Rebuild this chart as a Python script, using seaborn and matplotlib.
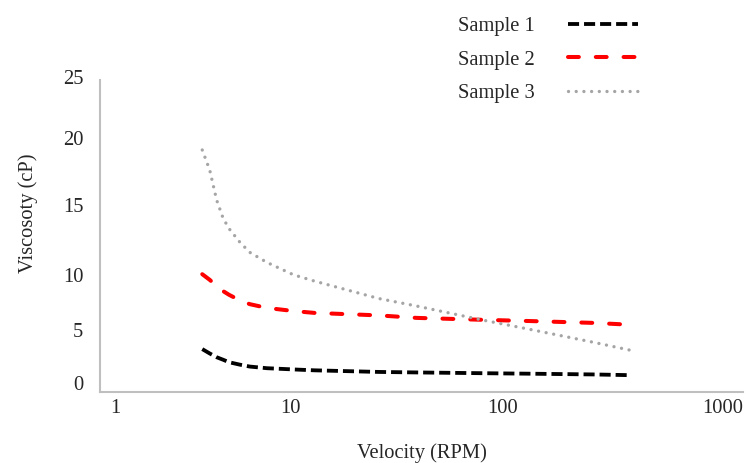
import pandas as pd
import numpy as np
import matplotlib
matplotlib.use("Agg")
import matplotlib.pyplot as plt
import matplotlib.ticker as mticker
import matplotlib.transforms as mtrans
import seaborn as sns

# -------------------------------
# DATA
# -------------------------------
rpm = [3, 3.25, 3.5, 3.75, 4, 4.5, 5, 6, 8, 10, 20, 30, 60, 100, 200, 300]
sample_1 = [3.45, 3.1, 2.8, 2.6, 2.4, 2.2, 2.05, 1.92, 1.82, 1.75,
            1.62, 1.58, 1.52, 1.48, 1.42, 1.36]
sample_2 = [9.45, 9.0, 8.5, 8.1, 7.8, 7.35, 7.05, 6.75, 6.5, 6.35,
            6.15, 5.95, 5.8, 5.7, 5.55, 5.4]
sample_3 = [19.4, 17.8, 15.4, 13.95, 13.1, 12.0, 11.2, 10.4, 9.4, 8.9,
            7.5, 6.9, 5.8, 5.05, 4.0, 3.35]
series_names = ["Sample 1", "Sample 2", "Sample 3"]
x_ticks = [1, 10, 100, 1000]
y_ticks = [0, 5, 10, 15, 20, 25]

df = pd.DataFrame({
    "rpm": rpm * 3,
    "visc": sample_1 + sample_2 + sample_3,
    "sample": [n for n in series_names for _ in rpm],
})

# -------------------------------
# STYLE
# -------------------------------
sns.set_style("white")
plt.rcParams["font.family"] = ["Liberation Serif", "DejaVu Serif"]
fs = 14.8

colors = {"Sample 1": "#000000", "Sample 2": "#ff0000", "Sample 3": "#a5a5a5"}
dashes = {"Sample 1": (2.9, 1.3), "Sample 2": (2.7, 4.2), "Sample 3": (0.01, 2.3)}
widths = {"Sample 1": 2.75, "Sample 2": 2.9, "Sample 3": 2.4}
caps = {"Sample 1": "butt", "Sample 2": "round", "Sample 3": "round"}

fig = plt.figure(figsize=(7.49, 4.63), dpi=100)
ax = fig.add_axes([0.1335, 0.153, 0.8585, 0.674])

sns.lineplot(data=df, x="rpm", y="visc", hue="sample", style="sample",
             palette=colors, dashes=dashes, ax=ax, legend=False)

for line, name in zip(ax.get_lines(), series_names):
    line.set_linewidth(widths[name])
    line.set_dashes(dashes[name])
    line.set_dash_capstyle(caps[name])

ax.set_xscale("log")
ax.set_xlim(1, 1000)
ax.set_ylim(0, 25)
ax.xaxis.set_major_locator(mticker.FixedLocator(x_ticks))
ax.xaxis.set_major_formatter(mticker.FuncFormatter(lambda v, p: f"{v:g}"))
ax.xaxis.set_minor_locator(mticker.NullLocator())
ax.set_yticks(y_ticks)
ax.tick_params(axis="both", length=0, labelsize=fs, colors="#262626")
ax.tick_params(axis="y", pad=12)
ax.tick_params(axis="x", pad=5)

# tick labels sit a little off their ticks in the reference
x_shift = [15, -24, -26, -20]
y_shift = [9, 0, -8, 0, 5, 3]
for lab, dx in zip(ax.get_xticklabels(), x_shift):
    lab.set_transform(lab.get_transform() +
                      mtrans.ScaledTranslation(dx / 100, 0, fig.dpi_scale_trans))
for lab, dy in zip(ax.get_yticklabels(), y_shift):
    lab.set_transform(lab.get_transform() +
                      mtrans.ScaledTranslation(0, dy / 100, fig.dpi_scale_trans))

for s in ["top", "right"]:
    ax.spines[s].set_visible(False)
for s in ["left", "bottom"]:
    ax.spines[s].set_color("#bfbfbf")
    ax.spines[s].set_linewidth(1.5)

ax.set_xlabel("Velocity (RPM)", fontsize=fs, color="#262626")
ax.set_ylabel("Viscosoty (cP)", fontsize=fs, color="#262626")
ax.xaxis.label.set_va("center")
ax.xaxis.set_label_coords(0.5, -0.195)
ax.yaxis.label.set_va("center")
ax.yaxis.set_label_coords(-0.112, 0.574)

# -------------------------------
# LEGEND (labels left of the lines)
# -------------------------------
handles = ax.get_lines()[:3]
leg = fig.legend(handles, series_names, loc="upper left",
                 bbox_to_anchor=(0.587, 1.003), frameon=False, fontsize=fs,
                 markerfirst=False, handlelength=3.4, handletextpad=1.6,
                 labelspacing=0.67)

fig.savefig("out.png", dpi=100)
